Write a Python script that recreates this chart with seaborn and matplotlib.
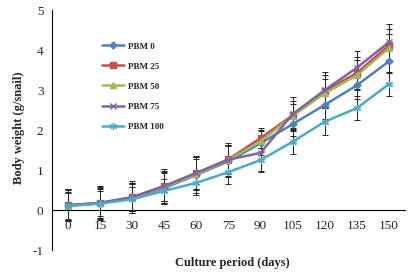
import numpy as np
import pandas as pd
import matplotlib
matplotlib.use('Agg')
import matplotlib.pyplot as plt
import seaborn as sns

days = [0, 15, 30, 45, 60, 75, 90, 105, 120, 135, 150]
groups = ['PBM 0', 'PBM 25', 'PBM 50', 'PBM 75', 'PBM 100']

pbm0 = [0.12, 0.17, 0.30, 0.55, 0.88, 1.22, 1.67, 2.15, 2.63, 3.12, 3.72]
pbm25 = [0.12, 0.18, 0.32, 0.60, 0.92, 1.27, 1.80, 2.37, 2.97, 3.43, 4.12]
pbm50 = [0.11, 0.17, 0.31, 0.58, 0.90, 1.25, 1.72, 2.35, 2.92, 3.37, 4.05]
pbm75 = [0.12, 0.18, 0.32, 0.60, 0.93, 1.26, 1.43, 2.40, 3.00, 3.56, 4.20]
pbm100 = [0.10, 0.16, 0.27, 0.48, 0.68, 0.95, 1.25, 1.71, 2.21, 2.55, 3.15]

err0 = [0.40, 0.40, 0.38, 0.40, 0.45, 0.40, 0.30, 0.30, 0.35, 0.35, 0.30]
err25 = [0.38, 0.38, 0.35, 0.38, 0.40, 0.35, 0.25, 0.35, 0.40, 0.40, 0.40]
err50 = [0.35, 0.36, 0.33, 0.35, 0.38, 0.35, 0.28, 0.30, 0.35, 0.38, 0.35]
err75 = [0.40, 0.42, 0.40, 0.42, 0.42, 0.42, 0.45, 0.43, 0.46, 0.42, 0.45]
err100 = [0.32, 0.32, 0.30, 0.30, 0.30, 0.30, 0.30, 0.30, 0.34, 0.30, 0.30]

means = [pbm0, pbm25, pbm50, pbm75, pbm100]
errs = [err0, err25, err50, err75, err100]
colors = ['#4F81BD', '#C0504D', '#9BBB59', '#8064A2', '#4BACC6']
markers = ['D', 's', '^', 'x', (6, 2, 0)]
msizes = [3.5, 4.5, 4.5, 4.5, 5]

sns.set_style('white')
plt.rcParams['font.family'] = ['Liberation Serif', 'DejaVu Serif']
plt.rcParams['axes.unicode_minus'] = False

fig = plt.figure(figsize=(4.15, 2.73), dpi=100)
ax = fig.add_axes([0.125, 0.084, 0.851, 0.879])

# error bars first, lines on top
for m, e in zip(means, errs):
    ax.errorbar(days, m, yerr=e, fmt='none', ecolor='#222222', elinewidth=0.7,
                capsize=2, capthick=0.7, zorder=1.5)

for name, m, c, mk, ms in zip(groups, means, colors, markers, msizes):
    df = pd.DataFrame({'day': days, 'weight': m})
    sns.lineplot(data=df, x='day', y='weight', color=c, marker=mk,
                 linewidth=1.8, markersize=ms, markeredgewidth=1.0,
                 markeredgecolor=c, label=name, ax=ax, zorder=2)

ax.set_xlim(-7.5, 157.5)
ax.set_ylim(-1, 5)
ax.set_yticks([-1, 0, 1, 2, 3, 4, 5])
ax.set_xticks(days)
ax.set_xticks(np.arange(-7.5, 160, 15), minor=True)

for s in ['top', 'right']:
    ax.spines[s].set_visible(False)
ax.spines['bottom'].set_position(('data', 0))
ax.spines['bottom'].set_color('black')
ax.spines['left'].set_color('black')
ax.spines['bottom'].set_linewidth(0.8)
ax.spines['left'].set_linewidth(0.8)

ax.tick_params(axis='x', which='major', length=0, pad=7, labelsize=9.5)
ax.tick_params(axis='x', which='minor', length=3, direction='out', width=0.8)
ax.tick_params(axis='y', length=3, direction='out', width=0.8, labelsize=9.5, pad=3)

ax.set_xlabel('Culture period (days)', fontsize=9, fontweight='bold')
ax.set_ylabel('Body weight (g/snail)', fontsize=9, fontweight='bold')
ax.xaxis.set_label_coords(0.51, -0.03)
ax.yaxis.set_label_coords(-0.075, 0.51)

ax.legend(loc='upper left', bbox_to_anchor=(0.12, 0.9), frameon=False,
          prop={'weight': 'bold', 'size': 6.5}, labelspacing=1.3,
          handlelength=2.4, handletextpad=0.4)

fig.savefig('out.png', dpi=100)
